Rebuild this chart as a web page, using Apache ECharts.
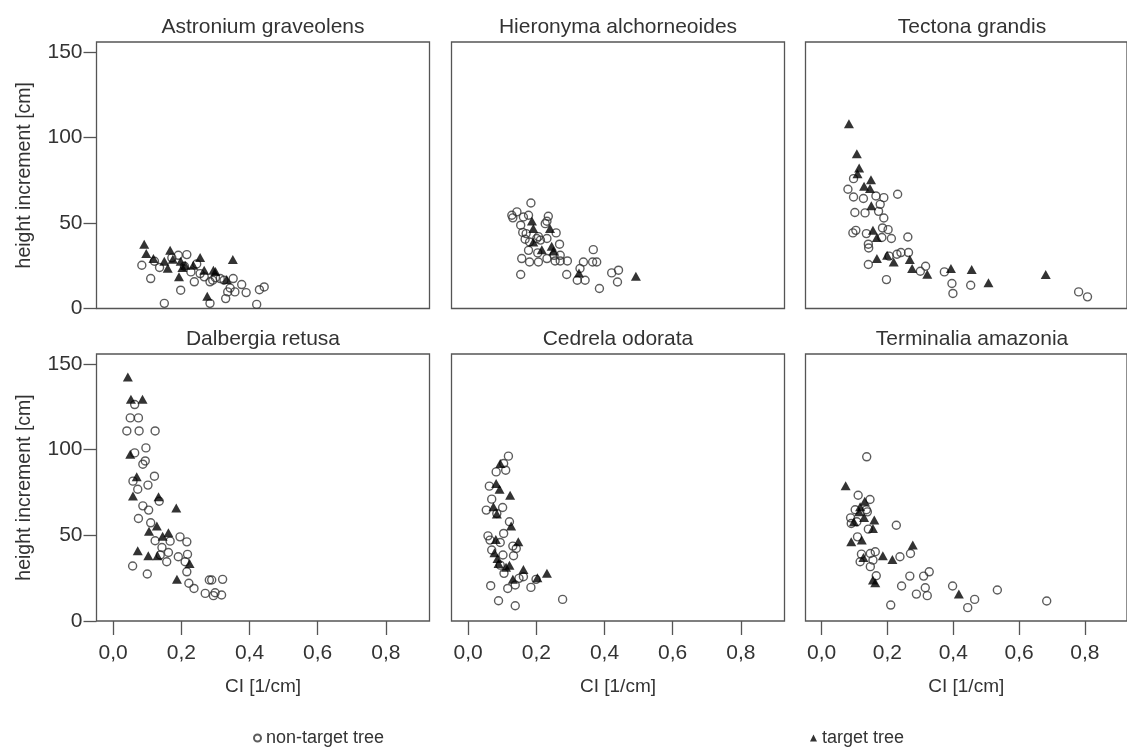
<!DOCTYPE html>
<html>
<head>
<meta charset="utf-8">
<script src="https://cdn.jsdelivr.net/npm/echarts@6/dist/echarts.min.js"></script>
<style>
  html, body { margin: 0; padding: 0; background: #fff; }
  #chart { width: 1127px; height: 751px; }
</style>
</head>
<body>
<div id="chart"></div>
<script>
// Species shown in the 2 x 3 panel grid (row by row)
const species = [
  'Astronium graveolens', 'Hieronyma alchorneoides', 'Tectona grandis',
  'Dalbergia retusa', 'Cedrela odorata', 'Terminalia amazonia'
];
const groupNames = ['non-target tree', 'target tree'];
const xTicks = [0, 0.2, 0.4, 0.6, 0.8];
const yTicks = [0, 50, 100, 150];
const xAxisName = 'CI [1/cm]';
const yAxisName = 'height increment [cm]';

// [CI, height increment] pairs per species
const astroniumNonTarget = [
  [0.084, 25.3], [0.110, 17.5], [0.121, 27.6], [0.136, 24.0], [0.150, 3.0], [0.172, 29.6],
  [0.191, 31.1], [0.216, 31.5], [0.198, 10.7], [0.209, 24.7], [0.228, 21.4], [0.238, 15.6],
  [0.255, 20.4], [0.267, 18.5], [0.284, 15.6], [0.284, 3.0], [0.292, 16.5], [0.314, 17.5],
  [0.325, 16.5], [0.330, 5.8], [0.336, 9.7], [0.343, 12.0], [0.352, 17.5], [0.357, 9.7],
  [0.377, 14.0], [0.390, 9.3], [0.421, 2.4], [0.429, 11.0], [0.443, 12.6], [0.245, 26.0],
  [0.300, 18.0]
];
const astroniumTarget = [
  [0.091, 37.6], [0.097, 32.1], [0.118, 29.2], [0.150, 27.6], [0.160, 23.5], [0.167, 34.1],
  [0.175, 28.8], [0.198, 27.6], [0.203, 24.0], [0.193, 18.5], [0.211, 25.3], [0.235, 25.3],
  [0.255, 29.8], [0.267, 22.4], [0.294, 22.4], [0.300, 21.6], [0.276, 7.2], [0.333, 17.0],
  [0.351, 28.6]
];

const hieronymaNonTarget = [
  [0.128, 54.5], [0.131, 53.0], [0.143, 56.5], [0.162, 53.5], [0.177, 54.5], [0.184, 61.7],
  [0.154, 48.7], [0.160, 44.5], [0.170, 43.8], [0.167, 40.5], [0.180, 38.9], [0.177, 34.0],
  [0.201, 40.9], [0.206, 42.0], [0.212, 40.0], [0.226, 49.6], [0.235, 53.9], [0.231, 51.0],
  [0.231, 40.9], [0.258, 44.2], [0.268, 37.6], [0.270, 31.1], [0.157, 29.2], [0.180, 27.2],
  [0.206, 27.2], [0.231, 29.2], [0.255, 27.8], [0.270, 27.8], [0.291, 27.8], [0.154, 19.9],
  [0.289, 19.9], [0.338, 27.2], [0.367, 34.4], [0.365, 27.2], [0.377, 27.2], [0.320, 16.5],
  [0.343, 16.5], [0.328, 23.4], [0.385, 11.7], [0.421, 20.8], [0.441, 22.4], [0.438, 15.5],
  [0.204, 32.5], [0.252, 31.1]
];
const hieronymaTarget = [
  [0.187, 51.2], [0.191, 46.7], [0.240, 46.7], [0.191, 38.9], [0.216, 34.4], [0.245, 36.4],
  [0.250, 33.6], [0.325, 20.8], [0.492, 18.9]
];

const tectonaNonTarget = [
  [0.097, 75.9], [0.080, 69.7], [0.097, 65.2], [0.127, 64.3], [0.165, 65.8], [0.189, 64.8],
  [0.178, 60.9], [0.231, 66.8], [0.101, 56.1], [0.132, 55.9], [0.173, 56.8], [0.189, 52.9],
  [0.185, 47.1], [0.202, 46.1], [0.095, 44.2], [0.104, 45.7], [0.136, 43.8], [0.183, 41.5],
  [0.212, 40.9], [0.262, 41.8], [0.142, 37.6], [0.143, 35.4], [0.205, 30.6], [0.229, 31.7],
  [0.241, 32.7], [0.264, 32.7], [0.142, 25.7], [0.197, 16.9], [0.300, 21.8], [0.316, 24.7],
  [0.373, 21.4], [0.396, 14.6], [0.399, 8.8], [0.453, 13.6], [0.781, 9.7], [0.808, 6.8]
];
const tectonaTarget = [
  [0.083, 108.0], [0.107, 90.5], [0.114, 82.1], [0.109, 78.8], [0.150, 75.3], [0.129, 71.4],
  [0.147, 70.1], [0.151, 60.0], [0.156, 45.7], [0.168, 41.5], [0.168, 29.2], [0.199, 31.1],
  [0.219, 27.2], [0.268, 28.6], [0.275, 23.4], [0.321, 20.0], [0.393, 23.4], [0.456, 22.8],
  [0.507, 15.0], [0.681, 19.9]
];

const dalbergiaNonTarget = [
  [0.063, 126.3], [0.050, 118.5], [0.074, 118.5], [0.040, 110.9], [0.076, 110.9], [0.123, 110.9],
  [0.063, 98.1], [0.096, 101.0], [0.094, 93.4], [0.087, 91.5], [0.121, 84.5], [0.058, 81.6],
  [0.072, 76.9], [0.102, 79.3], [0.135, 69.9], [0.087, 67.2], [0.104, 64.7], [0.074, 59.8],
  [0.110, 57.3], [0.196, 49.1], [0.167, 46.6], [0.123, 46.8], [0.216, 46.2], [0.143, 42.9],
  [0.162, 40.0], [0.138, 38.5], [0.191, 37.5], [0.218, 38.9], [0.157, 34.6], [0.211, 34.6],
  [0.216, 28.7], [0.057, 32.1], [0.100, 27.4], [0.222, 22.0], [0.237, 19.0], [0.270, 16.1],
  [0.282, 23.9], [0.289, 23.9], [0.294, 14.8], [0.299, 16.5], [0.321, 24.3], [0.318, 15.2]
];
const dalbergiaTarget = [
  [0.043, 142.4], [0.052, 129.4], [0.086, 129.4], [0.050, 97.3], [0.069, 84.1], [0.058, 73.0],
  [0.133, 72.5], [0.185, 66.0], [0.128, 55.4], [0.105, 52.4], [0.162, 51.5], [0.145, 49.5],
  [0.072, 41.0], [0.103, 38.1], [0.130, 38.1], [0.224, 33.6], [0.187, 24.3]
];

const cedrelaNonTarget = [
  [0.118, 96.2], [0.104, 91.9], [0.082, 87.0], [0.110, 88.0], [0.062, 78.7], [0.069, 71.1],
  [0.101, 66.2], [0.053, 64.7], [0.084, 62.7], [0.121, 57.9], [0.104, 51.1], [0.058, 49.7],
  [0.064, 47.2], [0.094, 45.8], [0.131, 43.7], [0.141, 42.3], [0.069, 41.4], [0.102, 38.5],
  [0.133, 38.1], [0.105, 27.8], [0.066, 20.6], [0.116, 19.0], [0.138, 21.0], [0.149, 24.9],
  [0.162, 25.8], [0.184, 19.6], [0.199, 24.3], [0.089, 11.8], [0.138, 8.9], [0.277, 12.6],
  [0.094, 32.6]
];
const cedrelaTarget = [
  [0.094, 91.9], [0.082, 80.2], [0.092, 76.9], [0.123, 73.4], [0.074, 66.6], [0.084, 62.4],
  [0.126, 55.4], [0.147, 46.2], [0.081, 47.6], [0.077, 39.8], [0.086, 36.5], [0.089, 33.6],
  [0.111, 31.3], [0.121, 32.6], [0.162, 30.1], [0.131, 24.3], [0.203, 25.3], [0.231, 27.8]
];

const terminaliaNonTarget = [
  [0.137, 95.8], [0.111, 73.4], [0.147, 70.9], [0.102, 64.9], [0.136, 64.9], [0.139, 63.7],
  [0.088, 60.2], [0.090, 56.9], [0.107, 57.9], [0.142, 53.6], [0.227, 55.9], [0.109, 49.1],
  [0.121, 39.0], [0.117, 34.6], [0.148, 39.4], [0.163, 40.4], [0.156, 35.5], [0.148, 31.7],
  [0.166, 26.4], [0.238, 37.5], [0.270, 39.4], [0.268, 26.2], [0.243, 20.4], [0.210, 9.3],
  [0.288, 15.7], [0.310, 26.2], [0.327, 28.7], [0.315, 19.4], [0.321, 14.8], [0.398, 20.4],
  [0.444, 7.8], [0.465, 12.6], [0.534, 18.1], [0.684, 11.7]
];
const terminaliaTarget = [
  [0.073, 78.9], [0.131, 69.9], [0.117, 66.6], [0.114, 63.7], [0.129, 60.4], [0.160, 58.9],
  [0.156, 54.0], [0.098, 57.9], [0.090, 46.2], [0.122, 47.2], [0.127, 37.1], [0.186, 38.1],
  [0.215, 35.9], [0.277, 44.3], [0.156, 23.9], [0.163, 22.3], [0.417, 15.7]
];

const panelData = [
  [astroniumNonTarget, astroniumTarget],
  [hieronymaNonTarget, hieronymaTarget],
  [tectonaNonTarget, tectonaTarget],
  [dalbergiaNonTarget, dalbergiaTarget],
  [cedrelaNonTarget, cedrelaTarget],
  [terminaliaNonTarget, terminaliaTarget]
];

// Panel geometry (pixels)
const colLeft = [96.5, 451.5, 805.5];
const colWidth = 333;
const rowTop = [42, 354];
const rowHeight = [266.5, 267];
const FONT = '"Liberation Sans", Arial, sans-serif';
const TEXT = '#333';
const LINE = '#555';

const grids = [], xAxes = [], yAxes = [], series = [], graphics = [];

species.forEach((name, i) => {
  const row = Math.floor(i / 3), col = i % 3;
  const isBottom = row === 1, isLeft = col === 0;
  grids.push({
    left: colLeft[col], top: rowTop[row], width: colWidth, height: rowHeight[row],
    show: true, borderColor: LINE, borderWidth: 1.3, backgroundColor: 'transparent'
  });
  xAxes.push({
    type: 'value', gridIndex: i, min: -0.049, max: 0.928,
    splitLine: { show: false },
    axisLine: { show: false, onZero: false },
    axisTick: { show: isBottom, length: 14, inside: false, customValues: xTicks,
      lineStyle: { color: LINE, width: 1.3 } },
    axisLabel: { show: isBottom, customValues: xTicks, margin: 22,
      fontFamily: FONT, fontSize: 21, color: TEXT,
      formatter: v => v.toFixed(1).replace('.', ',') },
    name: isBottom ? xAxisName : '',
    nameLocation: 'middle', nameGap: 56,
    nameTextStyle: { fontFamily: FONT, fontSize: 19, color: TEXT }
  });
  yAxes.push({
    type: 'value', gridIndex: i, min: 0, max: 155.8,
    splitLine: { show: false },
    axisLine: { show: false, onZero: false },
    axisTick: { show: isLeft, length: 13, inside: false, customValues: yTicks,
      lineStyle: { color: LINE, width: 1.3 } },
    axisLabel: { show: isLeft, customValues: yTicks, margin: 14,
      fontFamily: FONT, fontSize: 21, color: TEXT },
    name: isLeft ? yAxisName : '',
    nameLocation: 'middle', nameGap: 62,
    nameTextStyle: { fontFamily: FONT, fontSize: 19.5, color: TEXT }
  });
  series.push({
    type: 'scatter', name: groupNames[0], xAxisIndex: i, yAxisIndex: i,
    data: panelData[i][0], symbol: 'circle', symbolSize: 8,
    itemStyle: { color: 'rgba(255,255,255,0)', borderColor: '#333', borderWidth: 1.4 },
    emphasis: { disabled: true }, z: 2
  });
  series.push({
    type: 'scatter', name: groupNames[1], xAxisIndex: i, yAxisIndex: i,
    data: panelData[i][1], symbol: 'triangle', symbolSize: [10, 9],
    itemStyle: { color: '#000' },
    emphasis: { disabled: true }, z: 3
  });
  // Species name above each panel
  graphics.push({
    type: 'text',
    x: colLeft[col] + colWidth / 2,
    y: rowTop[row] - 15,
    style: { text: name, fontFamily: FONT, fontSize: 21, fill: TEXT,
      textAlign: 'center', textVerticalAlign: 'middle' }
  });
});

const legendText = { fontFamily: FONT, fontSize: 18, color: TEXT };
const chart = echarts.init(document.getElementById('chart'), null, { renderer: 'canvas' });
chart.setOption({
  backgroundColor: '#fff',
  animation: false,
  grid: grids,
  xAxis: xAxes,
  yAxis: yAxes,
  series: series,
  graphic: graphics,
  legend: [
    { data: [groupNames[0]], left: 248, top: 724, itemWidth: 7, itemHeight: 7,
      itemGap: 4, textStyle: legendText, selectedMode: false },
    { data: [groupNames[1]], left: 805, top: 724, itemWidth: 7, itemHeight: 7,
      itemGap: 4, textStyle: legendText, selectedMode: false }
  ]
});
</script>
</body>
</html>
